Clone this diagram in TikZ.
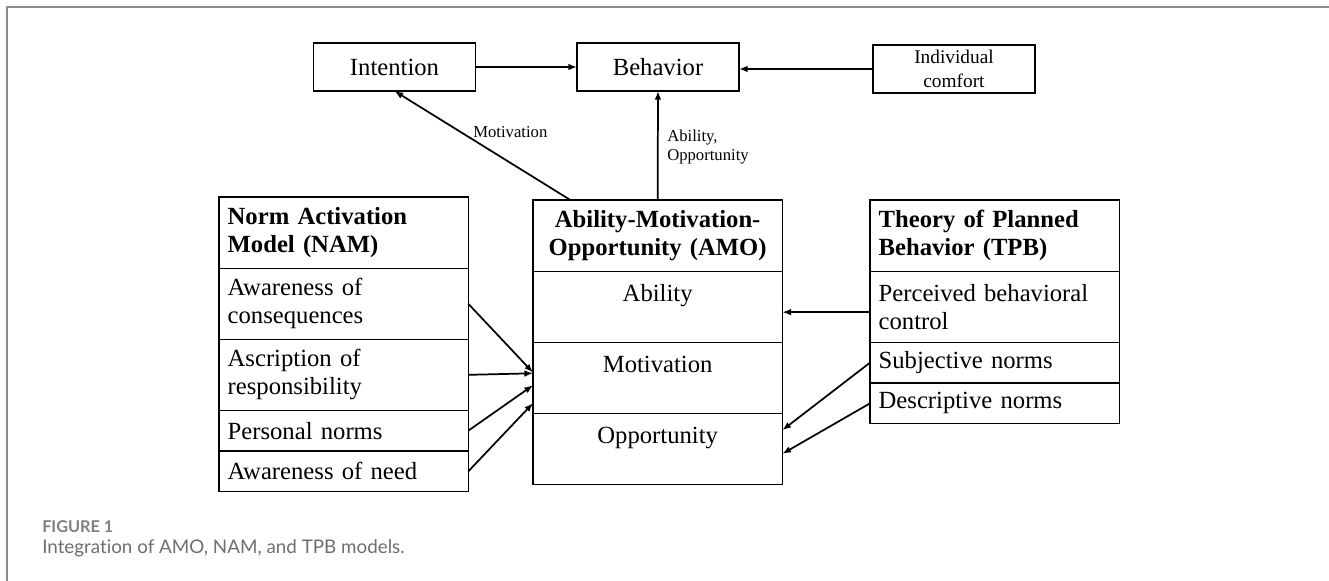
\documentclass[tikz,border=0pt]{standalone}
\usepackage{fontspec}
\setmainfont{Liberation Serif}
\newfontfamily\capfont[Ligatures=NoCommon]{Lato}
\usepackage{xcolor}
\usetikzlibrary{arrows.meta,positioning,calc}
\definecolor{framegray}{HTML}{8C8C8C}
\definecolor{capgray}{HTML}{6E6E6E}
\definecolor{figgray}{HTML}{808080}

\begin{document}
\begin{tikzpicture}[x=0.75pt, y=-0.75pt, font=\fontsize{18.5}{21}\selectfont,
  box/.style={draw, line width=1pt, outer sep=0pt, minimum width=121.5pt, minimum height=36pt, align=center},
  hd/.style={draw, line width=1pt, outer sep=0pt, minimum height=53.5pt, text width=174pt, inner xsep=6.5pt,
    font=\fontsize{18.5}{21}\selectfont\bfseries, align=left},
  row/.style={draw, line width=1pt, outer sep=0pt, minimum height=53.25pt, text width=174pt, inner xsep=6.5pt, align=left},
  srow/.style={row, minimum height=30.5pt, inner ysep=2pt},
  lbl/.style={font=\fontsize{12.5}{14.25}\selectfont, inner sep=0pt, align=left},
  arr/.style={-{Latex[length=6.5pt,width=5pt]}, line width=1.3pt}]
  \useasboundingbox (0,0) rectangle (1329,581);

  % card frame
  \draw[framegray, line width=1.5pt] (7,581) -- (7,7) -- (1329,7);

  % Top row
  \node[box] (intent) at (394.5,67) {Intention};
  \node[box] (behav) at (658,67) {Behavior};
  \node[box, font=\fontsize{14.5}{18}\selectfont] (comfort) at (954,69) {Individual\\comfort};

  % NAM column
  \node[hd, anchor=north west] (namhd) at (219,197) {Norm Activation\\Model (NAM)};
  \node[row, below=0pt of namhd] (nam1) {Awareness of\\consequences};
  \node[row, below=0pt of nam1] (nam2) {Ascription of\\responsibility};
  \node[srow, below=0pt of nam2] (nam3) {Personal norms};
  \node[srow, below=0pt of nam3] (nam4) {Awareness of need};

  % AMO column
  \node[hd, align=center, anchor=north west] (amohd) at (533,200) {Ability-Motivation-\\Opportunity (AMO)};
  \node[row, align=center, below=0pt of amohd] (amoab) {Ability\\\mbox{}};
  \node[row, align=center, below=0pt of amoab] (amomot) {Motivation\\\mbox{}};
  \node[row, align=center, below=0pt of amomot] (amoopp) {Opportunity\\\mbox{}};

  % TPB column
  \node[hd, anchor=north west] (tpbhd) at (870,200) {Theory of Planned\\Behavior (TPB)};
  \node[row, below=0pt of tpbhd] (tpb1) {Perceived behavioral\\control};
  \node[srow, below=0pt of tpb1] (tpb2) {Subjective norms};
  \node[srow, below=0pt of tpb2] (tpb3) {Descriptive norms};

  % Arrows
  \draw[arr] (intent) -- (behav);
  \draw[arr] (comfort.west) -- (comfort.west -| behav.east);
  \draw[arr] ([xshift=28pt]amohd.north west) -- (intent.south);
  \draw[arr] (amohd.north) -- (behav.south);

  \draw[arr] (nam1.east) -- ([yshift=4pt]amomot.west);
  \draw[arr] (nam2.east) -- ([yshift=3.4pt]amomot.west);
  \draw[arr] (nam3.east) -- ([yshift=-5.6pt]amomot.west);
  \draw[arr] (nam4.east) -- ([yshift=-19pt]amomot.west);

  \draw[arr] ([yshift=-4pt]tpb1.west) -- ([yshift=-4pt]tpb1.west -| amoab.east);
  \draw[arr] (tpb2.west) -- ([yshift=14pt]amoopp.east);
  \draw[arr] (tpb3.west) -- ([yshift=-3.75pt]amoopp.east);

  % Arrow labels
  \node[lbl, anchor=west] (motlbl) at (473,132) {Motivation};
  \node[lbl, anchor=west] (aolbl) at (667,147) {Ability,\\Opportunity};

  % Caption
  \node[anchor=base west, inner sep=0pt, text=figgray, font=\capfont\bfseries\fontsize{12.2}{14}\selectfont] (fignum) at (42,532) {FIGURE 1};
  \node[anchor=base west, inner sep=0pt, text=capgray, font=\capfont\fontsize{14.1}{17}\selectfont] (figcap) at (42,553) {Integration of AMO, NAM, and TPB models.};
\end{tikzpicture}
\end{document}
